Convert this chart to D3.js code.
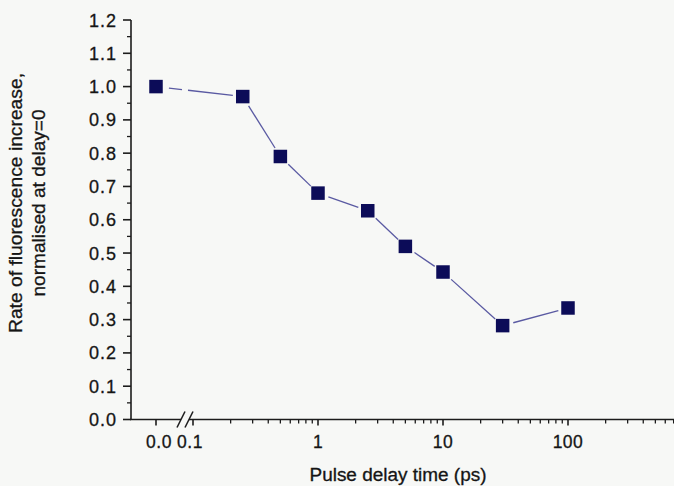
<!DOCTYPE html>
<html>
<head>
<meta charset="utf-8">
<script src="https://cdn.jsdelivr.net/npm/d3@7"></script>
<style>
  html, body { margin: 0; padding: 0; background: #f7f8f6; }
  svg { display: block; }
  text { font-family: "Liberation Sans", Arial, sans-serif; fill: #151515; stroke: #151515; stroke-width: 0.3px; }
</style>
</head>
<body>
<svg id="chart" width="674" height="486"></svg>
<script>
// Pulse delay (ps) and normalised fluorescence rate
const delays = [0, 0.25, 0.5, 1, 2.5, 5, 10, 30, 100];
const rates  = [1.0, 0.97, 0.79, 0.68, 0.627, 0.52, 0.443, 0.282, 0.335];
const yTicks = [0, 0.1, 0.2, 0.3, 0.4, 0.5, 0.6, 0.7, 0.8, 0.9, 1.0, 1.1, 1.2];
const xTicksLog = [0.1, 1, 10, 100];
const xZeroLabel = "0.0";

const svg = d3.select("#chart");
const axisX0 = 131;           // left edge of plot (y axis)
const xZeroPos = 156;         // position of the delay = 0 point (before the break)
const breakL = 179, breakR = 191;

const y = d3.scaleLinear().domain([0, 1.2]).range([419.5, 20]);
const xLog = d3.scaleLog().domain([0.1, 1000]).range([193, 693]);
const xPos = d => d === 0 ? xZeroPos : xLog(d);

const ink = "#1c1c1c";

// ---- y axis ----
const gy = svg.append("g");
gy.append("line").attr("x1", axisX0).attr("x2", axisX0)
  .attr("y1", y(1.2)).attr("y2", y(0)).attr("stroke", ink).attr("stroke-width", 1.6);
const yMinor = d3.range(0.05, 1.2, 0.1);
gy.selectAll(".ymin").data(yMinor).join("line")
  .attr("x1", axisX0 - 4).attr("x2", axisX0)
  .attr("y1", d => y(d)).attr("y2", d => y(d))
  .attr("stroke", ink).attr("stroke-width", 1.3);
gy.selectAll(".ymaj").data(yTicks).join("line")
  .attr("x1", axisX0 - 8).attr("x2", axisX0)
  .attr("y1", d => y(d)).attr("y2", d => y(d))
  .attr("stroke", ink).attr("stroke-width", 1.6);
gy.selectAll(".ylab").data(yTicks).join("text")
  .attr("x", 117).attr("y", d => y(d) + 6.5)
  .attr("text-anchor", "end")
  .style("font-size", "18px").style("letter-spacing", "1px")
  .text(d3.format(".1f"));

// ---- x axis (broken) ----
const gx = svg.append("g");
const y0 = y(0);
gx.append("line").attr("x1", axisX0 - 1).attr("x2", breakL + 2)
  .attr("y1", y0).attr("y2", y0).attr("stroke", ink).attr("stroke-width", 1.6);
gx.append("line").attr("x1", breakR - 2).attr("x2", 674)
  .attr("y1", y0).attr("y2", y0).attr("stroke", ink).attr("stroke-width", 1.6);
// break marks
[breakL - 2, breakR - 6].forEach(bx => {
  gx.append("line").attr("x1", bx).attr("y1", y0 + 8).attr("x2", bx + 8).attr("y2", y0 - 8)
    .attr("stroke", ink).attr("stroke-width", 1.5);
});
// minor log ticks
const xMinor = [];
[0.1, 1, 10, 100].forEach(dec => { for (let m = 2; m <= 9; m++) xMinor.push(dec * m); });
gx.selectAll(".xmin").data(xMinor).join("line")
  .attr("x1", d => xLog(d)).attr("x2", d => xLog(d))
  .attr("y1", y0).attr("y2", y0 + 4)
  .attr("stroke", ink).attr("stroke-width", 1.3);
const xMajorAll = [0].concat(xTicksLog);
gx.selectAll(".xmaj").data(xMajorAll).join("line")
  .attr("x1", d => xPos(d)).attr("x2", d => xPos(d))
  .attr("y1", y0).attr("y2", y0 + 6)
  .attr("stroke", ink).attr("stroke-width", 1.6);
gx.selectAll(".xlab").data(xMajorAll).join("text")
  .attr("x", d => xPos(d) + (d === 0 ? 3 : d === 0.1 ? -3 : 0)).attr("y", 448)
  .attr("text-anchor", "middle")
  .style("font-size", "17.5px").style("letter-spacing", "0.5px")
  .text(d => d === 0 ? xZeroLabel : d3.format("~g")(d));

// ---- axis titles ----
svg.append("text").attr("x", 398).attr("y", 481).attr("text-anchor", "middle")
  .attr("textLength", 177).attr("lengthAdjust", "spacingAndGlyphs")
  .style("font-size", "18px").text("Pulse delay time (ps)");
const yt = svg.append("g").attr("transform", "translate(22,203) rotate(-90)");
yt.append("text").attr("x", 0).attr("y", 0).attr("text-anchor", "middle")
  .attr("textLength", 260).attr("lengthAdjust", "spacingAndGlyphs")
  .style("font-size", "18px").text("Rate of fluorescence increase,");
yt.append("text").attr("x", 0).attr("y", 23).attr("text-anchor", "middle")
  .attr("textLength", 187).attr("lengthAdjust", "spacingAndGlyphs")
  .style("font-size", "18px").text("normalised at delay=0");

// ---- connecting line, with gaps at the markers and at the axis break ----
const pts = delays.map((d, i) => [xPos(d), y(rates[i])]);
const lineG = svg.append("g");
const segs = [];
for (let i = 0; i < pts.length - 1; i++) {
  const [ax, ay] = pts[i], [bx, by] = pts[i + 1];
  const len = Math.hypot(bx - ax, by - ay);
  const ux = (bx - ax) / len, uy = (by - ay) / len;
  const g0 = i === 0 ? 13 : 11, g1 = 10;
  const s = [ax + ux * g0, ay + uy * g0], e = [bx - ux * g1, by - uy * g1];
  if (s[0] < breakL + 2 && e[0] > breakR - 2) {
    const t1 = (breakL + 3 - s[0]) / (e[0] - s[0]);
    const t2 = (breakR - 3 - s[0]) / (e[0] - s[0]);
    segs.push([s, [s[0] + (e[0] - s[0]) * t1, s[1] + (e[1] - s[1]) * t1]]);
    segs.push([[s[0] + (e[0] - s[0]) * t2, s[1] + (e[1] - s[1]) * t2], e]);
  } else {
    segs.push([s, e]);
  }
}
lineG.selectAll("line").data(segs).join("line")
  .attr("x1", d => d[0][0]).attr("y1", d => d[0][1])
  .attr("x2", d => d[1][0]).attr("y2", d => d[1][1])
  .attr("stroke", "#5a5aa2").attr("stroke-width", 1.3);

// ---- markers ----
const ms = 13.5;
svg.append("g").selectAll("rect").data(pts).join("rect")
  .attr("x", d => d[0] - ms / 2).attr("y", d => d[1] - ms / 2)
  .attr("width", ms).attr("height", ms)
  .attr("fill", "#0c0c58");
</script>
</body>
</html>
